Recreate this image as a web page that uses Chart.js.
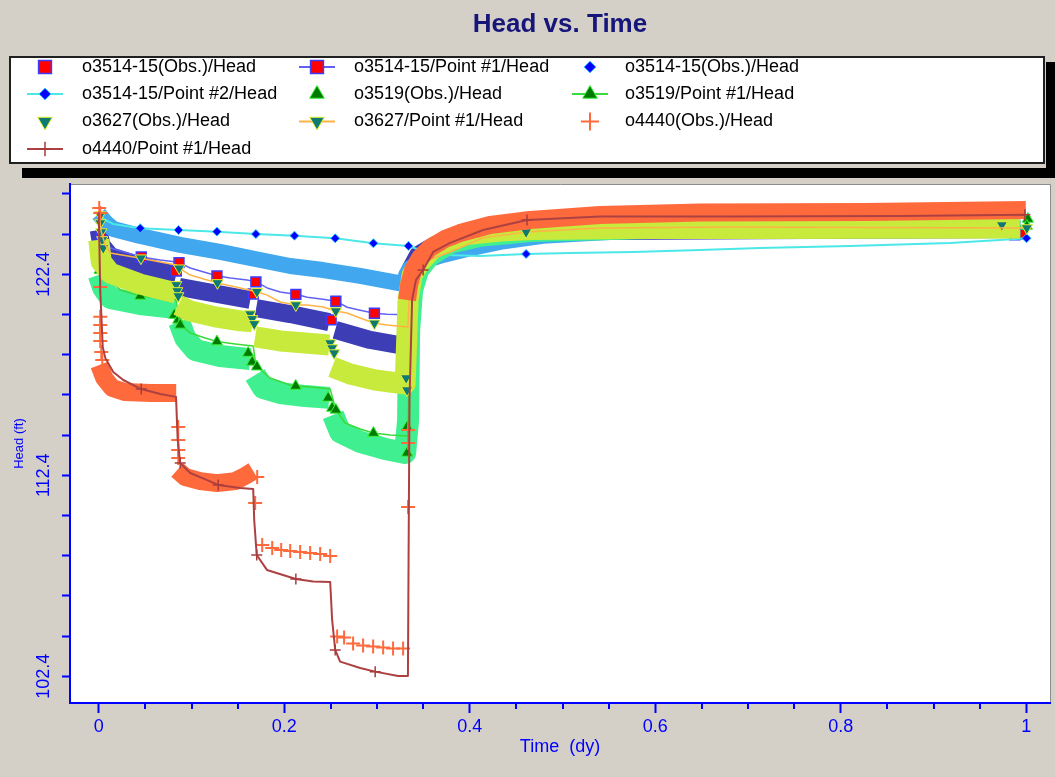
<!DOCTYPE html>
<html>
<head>
<meta charset="utf-8">
<title>Head vs. Time</title>
<script src="https://cdn.jsdelivr.net/npm/chart.js@4.4.0/dist/chart.umd.min.js"></script>
<style>
  html, body { margin: 0; padding: 0; background: #d4d0c8; overflow: hidden; }
  #headChart { display: block; }
</style>
</head>
<body>
<canvas id="headChart" width="1055" height="777"></canvas>
<script>
// axis ticks
var xTicks = [0, 0.2, 0.4, 0.6, 0.8, 1];
var xMinorTicks = [0.05, 0.1, 0.15, 0.25, 0.3, 0.35, 0.45, 0.5, 0.55, 0.65, 0.7, 0.75, 0.85, 0.9, 0.95];
var yTicks = [102.4, 104.4, 106.4, 108.4, 110.4, 112.4, 114.4, 116.4, 118.4, 120.4, 122.4, 124.4, 126.4];
var yLabelled = [102.4, 112.4, 122.4];

// o3514-15 observed (squares): dense runs of readings, plus single readings
var obs3514Runs = [
  [[0, 124.60], [0.0027, 123.86], [0.0124, 123.31], [0.0458, 122.81], [0.0835, 122.36]],
  [[0.0867, 121.77], [0.1277, 121.42], [0.1633, 121.12]],
  [[0.1697, 120.72], [0.2063, 120.42], [0.2484, 120.02]],
  [[0.2549, 119.63], [0.2926, 119.13], [0.3303, 118.83], [0.3335, 121.12], [0.3357, 122.61], [0.3443, 123.36],
   [0.3626, 123.86], [0.3895, 124.21], [0.4326, 124.45], [0.5404, 124.55], [0.9935, 124.65]]
];
var obs3514Points = [[0.0027, 124.20], [0.0835, 122.56], [0.1665, 121.42], [0.2505, 120.13], [0.3324, 118.63],
  [0.3335, 119.10], [0.9876, 124.36]];

// o3514-15 simulated, Point #1
var sim3514p1 = [[0, 125.50], [0.0027, 124.60], [0.007, 124.11], [0.0124, 123.71], [0.0458, 123.26], [0.0663, 123.11],
  [0.0835, 123.01], [0.0865, 122.98], [0.0986, 122.71], [0.1169, 122.46], [0.1274, 122.32], [0.1417, 122.21],
  [0.16, 122.11], [0.1694, 122.02], [0.1816, 121.72], [0.1956, 121.52], [0.2125, 121.40], [0.2247, 121.26],
  [0.2419, 121.16], [0.2556, 121.06], [0.2678, 120.76], [0.2818, 120.61], [0.2972, 120.46], [0.3109, 120.41],
  [0.3333, 120.38], [0.3346, 121.62], [0.3378, 122.61], [0.3443, 123.21], [0.3572, 123.61], [0.3788, 123.91],
  [0.4111, 124.11], [0.465, 124.21], [0.5943, 124.26], [0.9951, 124.40]];
var sim3514p1Marks = [0.0458, 0.0865, 0.1274, 0.1694, 0.2125, 0.2556, 0.2972, 0.9951];

// o3514-15 observed (diamonds)
var obs3514dRuns = [
  [[0, 125.40], [0.007, 125.00], [0.0156, 124.65], [0.0447, 124.30], [0.0878, 123.86], [0.1309, 123.51],
   [0.174, 123.11], [0.2063, 122.81], [0.2419, 122.61], [0.2818, 122.32], [0.3281, 121.92], [0.3314, 122.36],
   [0.3357, 122.71], [0.3464, 123.01], [0.3712, 123.36], [0.3971, 123.66], [0.4326, 124.01], [0.479, 124.31],
   [0.5296, 124.45], [0.5943, 124.60], [0.9935, 124.65]]
];

// o3514-15 simulated, Point #2
var sim3514p2 = [[0, 125.35], [0.007, 125.10], [0.0156, 124.90], [0.0447, 124.69], [0.086, 124.60], [0.1274, 124.52],
  [0.1694, 124.40], [0.211, 124.32], [0.2549, 124.19], [0.2961, 123.94], [0.3338, 123.81], [0.3464, 123.61],
  [0.3755, 123.36], [0.4111, 123.31], [0.4607, 123.41], [0.5081, 123.46], [0.576, 123.51], [0.6482, 123.61],
  [0.7128, 123.71], [0.8098, 123.81], [0.9175, 123.96], [0.9714, 124.11], [1.0002, 124.19]];
var sim3514p2Marks = [0.0447, 0.086, 0.1274, 0.1694, 0.211, 0.2549, 0.2961, 0.3338, 0.4607, 1.0002];

// o3519 observed
var obs3519Runs = [
  [[0, 122.37], [0.0048, 121.72], [0.0124, 121.22], [0.0447, 120.92], [0.0835, 120.72]],
  [[0.0867, 120.03], [0.0932, 119.23], [0.104, 118.63], [0.1309, 118.33], [0.1633, 118.18]],
  [[0.1686, 117.39], [0.1772, 116.74], [0.1956, 116.49], [0.2225, 116.34], [0.2484, 116.25]],
  [[0.2527, 115.40], [0.2602, 114.55], [0.2818, 114.06], [0.3087, 113.71], [0.3303, 113.51], [0.3335, 115.15],
   [0.3346, 119.63], [0.3378, 121.62], [0.3443, 122.61], [0.3572, 123.36], [0.3788, 123.96], [0.4111, 124.31],
   [0.465, 124.55], [0.5943, 124.70], [0.9935, 124.75]]
];
var obs3519Points = [[0.001, 122.96], [0.001, 122.60], [0.0814, 120.37], [0.0857, 120.13], [0.1611, 118.48],
  [0.1654, 118.04], [0.2473, 116.25], [0.2516, 115.75], [0.3324, 114.80], [0.3324, 113.51], [1.0016, 125.15]];

// o3519 simulated, Point #1
var sim3519 = [[0, 125.50], [0.0027, 124.11], [0.007, 122.86], [0.0124, 122.12], [0.0232, 121.62], [0.0447, 121.32],
  [0.0663, 121.22], [0.0835, 121.12], [0.0857, 120.37], [0.0878, 119.88], [0.0986, 119.48], [0.1147, 119.23],
  [0.1274, 119.05], [0.1471, 118.93], [0.1665, 118.83], [0.1686, 118.14], [0.1705, 117.80], [0.1848, 117.24],
  [0.2063, 116.89], [0.2123, 116.84], [0.2279, 116.79], [0.2495, 116.69], [0.2527, 116.15], [0.2556, 115.65],
  [0.2656, 115.00], [0.2818, 114.70], [0.2961, 114.50], [0.3141, 114.40], [0.3333, 114.35], [0.334, 116.15],
  [0.3357, 119.63], [0.3389, 121.62], [0.3464, 122.71], [0.3626, 123.51], [0.3895, 124.11], [0.4326, 124.45],
  [0.5404, 124.65], [1.0005, 124.80]];
var sim3519Marks = [0.0447, 0.0878, 0.1274, 0.1705, 0.2123, 0.2556, 0.2961, 1.0005];

// o3627 observed
var obs3627Runs = [
  [[0, 124.11], [0.0027, 123.02], [0.0124, 122.46], [0.0447, 121.91], [0.0835, 121.47]],
  [[0.0857, 120.87], [0.0986, 120.57], [0.1255, 120.28], [0.1525, 120.08], [0.1654, 120.03]],
  [[0.1686, 119.28], [0.1956, 119.08], [0.2225, 118.98], [0.2484, 118.88]],
  [[0.2516, 117.79], [0.271, 117.44], [0.298, 117.14], [0.3303, 116.94], [0.3335, 121.12], [0.3378, 122.36],
   [0.3464, 123.01], [0.3605, 123.71], [0.3788, 124.11], [0.3971, 124.38], [0.4326, 124.55], [0.4682, 124.63],
   [0.576, 124.68], [0.702, 124.68], [0.993, 124.70]]
];
var obs3627Points = [[0.0016, 125.35], [0.0016, 124.95], [0.0027, 124.50], [0.0038, 124.11], [0.0048, 123.71],
  [0.0835, 121.87], [0.0846, 121.57], [0.0857, 121.32], [0.1633, 120.42], [0.1654, 120.18], [0.1676, 119.93],
  [0.2495, 118.98], [0.2516, 118.73], [0.2538, 118.48], [0.3314, 117.24], [0.3324, 116.64], [0.9736, 124.85]];

// o3627 simulated, Point #1
var sim3627 = [[0, 125.50], [0.0027, 124.50], [0.007, 123.86], [0.0124, 123.46], [0.0455, 123.20], [0.0663, 123.01],
  [0.0835, 122.86], [0.0867, 122.70], [0.0986, 122.36], [0.1169, 122.11], [0.128, 121.97], [0.1525, 121.72],
  [0.1705, 121.53], [0.1816, 121.36], [0.1956, 121.02], [0.2125, 120.87], [0.2247, 120.87], [0.2419, 120.77],
  [0.2556, 120.57], [0.2678, 120.47], [0.2818, 120.22], [0.2972, 119.96], [0.3109, 119.88], [0.3333, 119.78],
  [0.3346, 121.12], [0.3378, 122.02], [0.3497, 123.01], [0.3788, 123.51], [0.4143, 124.21], [0.4607, 124.50],
  [0.5404, 124.70], [0.6805, 124.75], [1.0005, 124.70]];
var sim3627Marks = [0.0455, 0.0867, 0.128, 0.1705, 0.2125, 0.2556, 0.2972, 0.4607, 1.0005];

// o4440 observed
var obs4440Runs = [
  [[0.0005, 117.89], [0.0059, 117.24], [0.0145, 116.74], [0.0286, 116.54], [0.0555, 116.49], [0.0835, 116.49]],
  [[0.0846, 112.66], [0.0932, 112.31], [0.1094, 112.11], [0.1277, 112.01], [0.1471, 112.11], [0.1579, 112.37],
   [0.1665, 112.61]],
  [[0.3324, 121.12], [0.3346, 121.87], [0.3389, 122.61], [0.3464, 123.21], [0.3572, 123.71], [0.3734, 124.16],
   [0.3895, 124.45], [0.4219, 124.85], [0.465, 125.10], [0.5404, 125.35], [0.6482, 125.47], [0.826, 125.50],
   [0.9995, 125.60]]
];
var obs4440Points = [[0.0005, 125.70], [0.0016, 125.45], [0.0016, 121.77], [0.0016, 120.28], [0.0016, 119.88],
  [0.0016, 119.48], [0.0016, 119.08], [0.0027, 118.53], [0.0038, 118.14], [0.0857, 114.80], [0.0857, 114.16],
  [0.0857, 113.66], [0.0857, 113.26], [0.1708, 112.31], [0.1686, 111.02], [0.1762, 108.93], [0.187, 108.78],
  [0.1967, 108.68], [0.2064, 108.63], [0.2171, 108.58], [0.2279, 108.53], [0.2387, 108.48], [0.2495, 108.38],
  [0.257, 104.38], [0.2645, 104.33], [0.2742, 104.03], [0.285, 103.93], [0.2958, 103.88], [0.3066, 103.83],
  [0.3173, 103.78], [0.3281, 103.78], [0.3335, 110.82], [0.3335, 114.01], [0.3335, 114.65]];

// o4440 simulated, Point #1
var sim4440 = [[0, 125.50], [0.0016, 121.62], [0.0043, 118.78], [0.007, 118.24], [0.0156, 117.54], [0.0264, 117.14],
  [0.0458, 116.69], [0.0663, 116.44], [0.0833, 116.30], [0.0851, 114.16], [0.0878, 113.01], [0.0986, 112.51],
  [0.1169, 112.16], [0.1288, 111.92], [0.1525, 111.77], [0.1665, 111.72], [0.1676, 110.17], [0.1703, 108.43],
  [0.1813, 107.69], [0.2125, 107.24], [0.2311, 107.11], [0.2495, 107.09], [0.2516, 105.20], [0.2549, 103.71],
  [0.2602, 103.13], [0.2818, 102.81], [0.298, 102.63], [0.3227, 102.41], [0.3333, 102.41], [0.334, 108.19],
  [0.335, 116.15], [0.3378, 121.12], [0.342, 122.12], [0.3497, 122.61], [0.3605, 123.51], [0.3788, 123.96],
  [0.4143, 124.60], [0.4617, 125.10], [0.5404, 125.27], [0.6805, 125.27], [0.8637, 125.30], [0.9984, 125.36]];
var sim4440Marks = [0.0458, 0.0878, 0.1288, 0.1703, 0.2125, 0.2549, 0.298, 0.3497, 0.4617, 0.9984];

// ---- styles ----
var marker = {
  square:  { style: 'rect', rotation: 0, radius: 7, fill: '#ff0000', stroke: '#3c3cff', width: 1.5 },
  diamond: { style: 'rectRot', rotation: 0, radius: 4.5, fill: '#0000ff', stroke: '#28c8ff', width: 1 },
  triUp:   { style: 'triangle', rotation: 0, radius: 6.5, fill: '#007a00', stroke: '#38f038', width: 1 },
  triDown: { style: 'triangle', rotation: 180, radius: 6.5, fill: '#0e7a72', stroke: '#e4f032', width: 1 },
  plusObs: { style: 'cross', rotation: 0, radius: 7, fill: '#ff6a3d', stroke: '#ff6a3d', width: 2 },
  plusSim: { style: 'cross', rotation: 0, radius: 5.5, fill: '#a83c3c', stroke: '#a83c3c', width: 1.5 }
};
var bandColor = { square: '#3d3db6', diamond: '#41a8f0', triUp: '#40ef8f', triDown: '#c8ea3c', plus: '#ff6a3d' };
var lineColor = { p1: '#6262f2', p2: '#4ce8e8', o3519: '#3ada3a', o3627: '#ffb347', o4440: '#ad4141' };

function xy(list) {
  return list.map(function (p) { return { x: p[0], y: p[1] }; });
}

var datasets = [];

// dense runs of readings merge into a solid band
function addRuns(label, runs, color, width) {
  runs.forEach(function (run) {
    datasets.push({
      label: label, data: xy(run), showLine: true,
      borderColor: color, backgroundColor: color, borderWidth: width,
      borderCapStyle: 'butt', borderJoinStyle: 'round', pointRadius: 0
    });
  });
}

function addPoints(label, list, mk) {
  datasets.push({
    label: label, data: xy(list), showLine: false,
    pointStyle: mk.style, pointRotation: mk.rotation, pointRadius: mk.radius,
    pointBackgroundColor: mk.fill, pointBorderColor: mk.stroke, pointBorderWidth: mk.width
  });
}

function addSim(label, list, marks, color, width, mk) {
  datasets.push({
    label: label, data: xy(list), showLine: true,
    borderColor: color, borderWidth: width, borderJoinStyle: 'round',
    pointStyle: mk.style, pointRotation: mk.rotation,
    pointRadius: function (c) { return c.raw && marks.indexOf(c.raw.x) >= 0 ? mk.radius : 0; },
    pointBackgroundColor: mk.fill, pointBorderColor: mk.stroke, pointBorderWidth: mk.width
  });
}

// series in drawing order, later ones on top
addRuns('o3514-15(Obs.)/Head', obs3514Runs, bandColor.square, 18);
addPoints('o3514-15(Obs.)/Head', obs3514Points, marker.square);
addSim('o3514-15/Point #1/Head', sim3514p1, sim3514p1Marks, lineColor.p1, 1.5, marker.square);
addRuns('o3514-15(Obs.)/Head', obs3514dRuns, bandColor.diamond, 16);
addSim('o3514-15/Point #2/Head', sim3514p2, sim3514p2Marks, lineColor.p2, 2, marker.diamond);
addRuns('o3519(Obs.)/Head', obs3519Runs, bandColor.triUp, 22);
addPoints('o3519(Obs.)/Head', obs3519Points, marker.triUp);
addSim('o3519/Point #1/Head', sim3519, sim3519Marks, lineColor.o3519, 1.5, marker.triUp);
addRuns('o3627(Obs.)/Head', obs3627Runs, bandColor.triDown, 21);
addPoints('o3627(Obs.)/Head', obs3627Points, marker.triDown);
addSim('o3627/Point #1/Head', sim3627, sim3627Marks, lineColor.o3627, 1.5, marker.triDown);
addRuns('o4440(Obs.)/Head', obs4440Runs, bandColor.plus, 18);
addPoints('o4440(Obs.)/Head', obs4440Points, marker.plusObs);
addSim('o4440/Point #1/Head', sim4440, sim4440Marks, lineColor.o4440, 2, marker.plusSim);

datasets.forEach(function (d, i) { d.order = datasets.length - i; });

var legendEntries = [
  ['o3514-15(Obs.)/Head', null, marker.square],
  ['o3514-15/Point #1/Head', lineColor.p1, marker.square],
  ['o3514-15(Obs.)/Head', null, marker.diamond],
  ['o3514-15/Point #2/Head', lineColor.p2, marker.diamond],
  ['o3519(Obs.)/Head', null, marker.triUp],
  ['o3519/Point #1/Head', lineColor.o3519, marker.triUp],
  ['o3627(Obs.)/Head', null, marker.triDown],
  ['o3627/Point #1/Head', lineColor.o3627, marker.triDown],
  ['o4440(Obs.)/Head', null, marker.plusObs],
  ['o4440/Point #1/Head', lineColor.o4440, marker.plusSim]
];

var FONT = '"Liberation Sans", Arial, sans-serif';
Chart.defaults.font.family = FONT;

// small marker painter for the legend box
function paintMarker(c, mk, x, y, r) {
  c.save();
  c.fillStyle = mk.fill;
  c.strokeStyle = mk.stroke;
  c.lineWidth = mk.width;
  c.beginPath();
  if (mk.style === 'rect') {
    var h = r / Math.SQRT2;
    c.rect(x - h, y - h, 2 * h, 2 * h);
    c.fill(); c.stroke();
  } else if (mk.style === 'rectRot') {
    c.moveTo(x, y - r); c.lineTo(x + r, y); c.lineTo(x, y + r); c.lineTo(x - r, y); c.closePath();
    c.fill(); c.stroke();
  } else if (mk.style === 'triangle') {
    var s = mk.rotation ? -1 : 1;
    c.moveTo(x, y - s * r);
    c.lineTo(x + r * 0.866, y + s * r / 2);
    c.lineTo(x - r * 0.866, y + s * r / 2);
    c.closePath();
    c.fill(); c.stroke();
  } else {
    c.moveTo(x - r, y); c.lineTo(x + r, y);
    c.moveTo(x, y - r); c.lineTo(x, y + r);
    c.stroke();
  }
  c.restore();
}

var decor = {
  id: 'decor',
  beforeDraw: function (chart) {
    var c = chart.ctx, a = chart.chartArea;
    c.save();
    c.fillStyle = '#d4d0c8';
    c.fillRect(0, 0, chart.width, chart.height);
    c.fillStyle = '#ffffff';
    c.fillRect(a.left, a.top, a.right - a.left, a.bottom - a.top);
    c.strokeStyle = '#8c8c8c';
    c.lineWidth = 1;
    c.beginPath();
    c.moveTo(a.left, a.top + 0.5);
    c.lineTo(a.right + 0.5, a.top + 0.5);
    c.lineTo(a.right + 0.5, a.bottom);
    c.stroke();
    c.restore();
  },
  afterDraw: function (chart) {
    var c = chart.ctx, a = chart.chartArea, xs = chart.scales.x;
    c.save();

    // minor ticks on the time axis
    c.strokeStyle = '#0000ff';
    c.lineWidth = 2;
    xMinorTicks.forEach(function (v) {
      var px = Math.round(xs.getPixelForValue(v));
      c.beginPath();
      c.moveTo(px, a.bottom);
      c.lineTo(px, a.bottom + 6);
      c.stroke();
    });

    // title
    c.fillStyle = '#16167a';
    c.font = 'bold 26px ' + FONT;
    c.textAlign = 'center';
    c.textBaseline = 'middle';
    c.fillText('Head vs. Time', (a.left + a.right) / 2, 25);

    // legend box with its dark shadow
    c.fillStyle = '#000000';
    c.fillRect(1046, 62, 9, 116);
    c.fillRect(22, 168, 1033, 10);
    c.fillStyle = '#ffffff';
    c.fillRect(10, 57, 1034, 106);
    c.strokeStyle = '#202020';
    c.lineWidth = 2;
    c.strokeRect(10, 57, 1034, 106);

    var rows = [67, 94, 121.5, 149];
    var markX = [45, 317, 590];
    var textX = [82, 354, 625];
    c.font = '18px ' + FONT;
    c.textAlign = 'left';
    legendEntries.forEach(function (e, i) {
      var row = rows[Math.floor(i / 3)], col = i % 3;
      var mx = markX[col];
      if (e[1]) {
        c.strokeStyle = e[1];
        c.lineWidth = 2;
        c.beginPath();
        c.moveTo(mx - 18, row);
        c.lineTo(mx + 18, row);
        c.stroke();
      }
      paintMarker(c, e[2], mx, row, e[2].radius * 1.3);
      c.fillStyle = '#000000';
      c.fillText(e[0], textX[col], row);
    });
    c.restore();
  }
};

new Chart(document.getElementById('headChart').getContext('2d'), {
  type: 'scatter',
  data: { datasets: datasets },
  options: {
    responsive: false,
    animation: false,
    events: [],
    // wide band strokes would otherwise widen the automatic padding
    layout: { autoPadding: false, padding: { top: 184, right: 5, bottom: 0, left: 0 } },
    plugins: {
      legend: { display: false },
      title: { display: false },
      tooltip: { enabled: false }
    },
    scales: {
      x: {
        type: 'linear',
        min: -0.031,
        max: 1.0255,
        afterBuildTicks: function (s) { s.ticks = xTicks.map(function (v) { return { value: v }; }); },
        afterFit: function (s) { s.height = 74; },
        ticks: {
          color: '#0000ff', font: { size: 18 }, padding: 3, autoSkip: false,
          maxRotation: 0, minRotation: 0,
          callback: function (v) { return String(v); }
        },
        grid: { drawOnChartArea: false, tickLength: 10, tickColor: '#0000ff', tickWidth: 2 },
        border: { color: '#0000ff', width: 2 },
        title: { display: true, text: 'Time  (dy)', color: '#0000ff', font: { size: 18 }, padding: { top: 0, bottom: 19 } }
      },
      y: {
        type: 'linear',
        min: 101.07,
        max: 126.89,
        afterBuildTicks: function (s) { s.ticks = yTicks.map(function (v) { return { value: v }; }); },
        afterFit: function (s) { s.width = 70; },
        ticks: {
          color: '#0000ff', font: { size: 18 }, padding: -5, autoSkip: false,
          minRotation: 90, maxRotation: 90, crossAlign: 'center',
          callback: function (v) { return yLabelled.indexOf(v) >= 0 ? v.toFixed(1) : ''; }
        },
        grid: { drawOnChartArea: false, tickLength: 8, tickColor: '#0000ff', tickWidth: 2 },
        border: { color: '#0000ff', width: 2 },
        title: { display: true, text: 'Head (ft)', color: '#0000ff', font: { size: 13 }, padding: { top: 12, bottom: 0 } }
      }
    }
  },
  plugins: [decor]
});
</script>
</body>
</html>
